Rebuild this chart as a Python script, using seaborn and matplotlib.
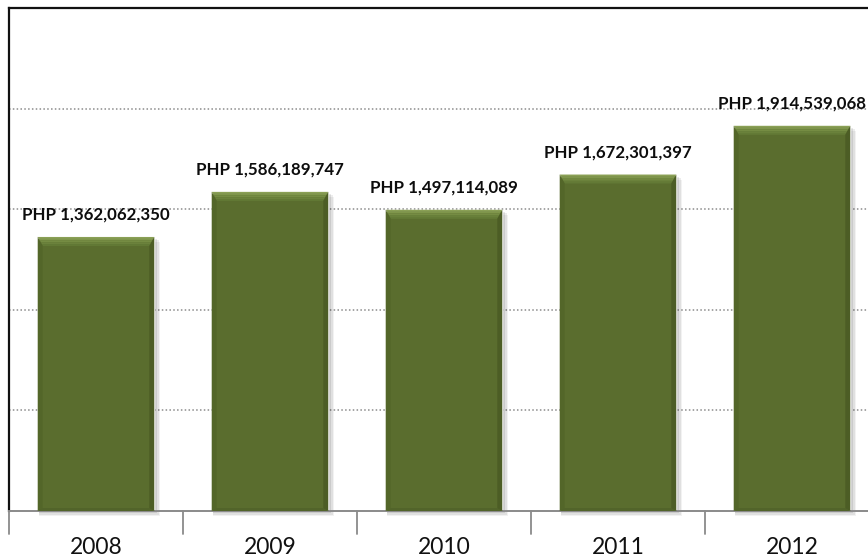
import matplotlib
matplotlib.use("Agg")
import matplotlib.pyplot as plt
from matplotlib.patches import Polygon, Rectangle
from matplotlib.transforms import IdentityTransform
import seaborn as sns
import pandas as pd
import numpy as np

years = ["2008", "2009", "2010", "2011", "2012"]
amounts = [1362062350, 1586189747, 1497114089, 1672301397, 1914539068]
grid_values = [500e6, 1000e6, 1500e6, 2000e6]

df = pd.DataFrame({"year": years, "amount": amounts})

sns.set_style("white")
plt.rcParams["font.family"] = ["Lato", "DejaVu Sans"]

W, H = 868, 560
fig = plt.figure(figsize=(W / 100, H / 100), dpi=100)
# Plot area: left spine at x=9, top at y=8, baseline at y=511; right edge runs past the canvas
ax = fig.add_axes([9 / W, (H - 511) / H, 870 / W, (511 - 8) / H])

main = "#5a6d2e"
sns.barplot(data=df, x="year", y="amount", color=main, saturation=1,
            width=0.67, ax=ax, zorder=3)

ax.set_xlim(-0.5, len(years) - 0.5)
ax.set_ylim(0, 2.5e9)

for g in grid_values:
    ax.axhline(g, color="#8c8c8c", lw=1.1, ls=(0, (1, 1.5)), zorder=1)

for side in ["left", "top"]:
    ax.spines[side].set_color("#111111")
    ax.spines[side].set_linewidth(1.6)
ax.spines["right"].set_visible(False)
ax.spines["bottom"].set_color("#8a8a8a")
ax.spines["bottom"].set_linewidth(1.4)
ax.spines["bottom"].set_zorder(4)

ax.set_yticks([])
ax.set_xlabel("")
ax.set_ylabel("")
ax.set_xticks(range(len(years)))
ax.set_xticklabels(years, fontsize=16.5, color="#111111")
ax.tick_params(axis="x", length=0, pad=19)
# category separator ticks along the baseline
for b in np.arange(-0.5, len(years), 1.0):
    ax.plot([b, b], [0, -0.045], transform=ax.get_xaxis_transform(),
            color="#8a8a8a", lw=1.3, clip_on=False, zorder=4)

fig.canvas.draw()
ident = IdentityTransform()
to_disp = ax.transData
bars = [p for p in ax.patches if isinstance(p, Rectangle)][: len(years)]
for p, val in zip(bars, amounts):
    x0, x1 = p.get_x(), p.get_x() + p.get_width()
    (dx0, dy0) = to_disp.transform((x0, 0))
    (dx1, dy1) = to_disp.transform((x1, val))
    # soft drop shadow behind the bar
    for k, a in [(5, 0.05), (3.5, 0.07), (2, 0.09)]:
        ax.add_patch(Rectangle((dx0 + 1, dy0 - k), dx1 - dx0 + k, dy1 - dy0,
                               transform=ident, facecolor="black", alpha=a,
                               zorder=2, lw=0, clip_on=False))
    t, s = 9, 5
    # bevel: lighter top face, darker sides, vertical gradient strips on the top face
    top_cols = ["#8aa055", "#7f964b", "#758c43", "#6b823c", "#637a36"]
    n = len(top_cols)
    for i, c in enumerate(top_cols):
        ya, yb = dy1 - t * i / n, dy1 - t * (i + 1) / n
        xa0, xa1 = dx0 + s * i / n, dx1 - s * i / n
        xb0, xb1 = dx0 + s * (i + 1) / n, dx1 - s * (i + 1) / n
        ax.add_patch(Polygon([(xa0, ya), (xa1, ya), (xb1, yb), (xb0, yb)],
                             closed=True, transform=ident, facecolor=c,
                             lw=0, zorder=5, clip_on=False))
    left = Polygon([(dx0, dy1), (dx0 + s, dy1 - t), (dx0 + s, dy0 + 2), (dx0, dy0)],
                   closed=True, transform=ident, facecolor="#536629", lw=0,
                   zorder=5, clip_on=False)
    right = Polygon([(dx1, dy1), (dx1 - s, dy1 - t), (dx1 - s, dy0 + 2), (dx1, dy0)],
                    closed=True, transform=ident, facecolor="#4c5d25", lw=0,
                    zorder=5, clip_on=False)
    bottom = Polygon([(dx0, dy0), (dx1, dy0), (dx1 - s, dy0 + 3), (dx0 + s, dy0 + 3)],
                     closed=True, transform=ident, facecolor="#52642a", lw=0,
                     zorder=5, clip_on=False)
    for poly in (left, right, bottom):
        ax.add_patch(poly)
    ax.annotate(f"PHP {val:,}", xy=((x0 + x1) / 2, val), xytext=(0, 16),
                textcoords="offset points", ha="center", va="center",
                fontsize=12.2, fontweight="bold", color="#0d0d0d", zorder=7)

fig.savefig("out.png", dpi=100)
